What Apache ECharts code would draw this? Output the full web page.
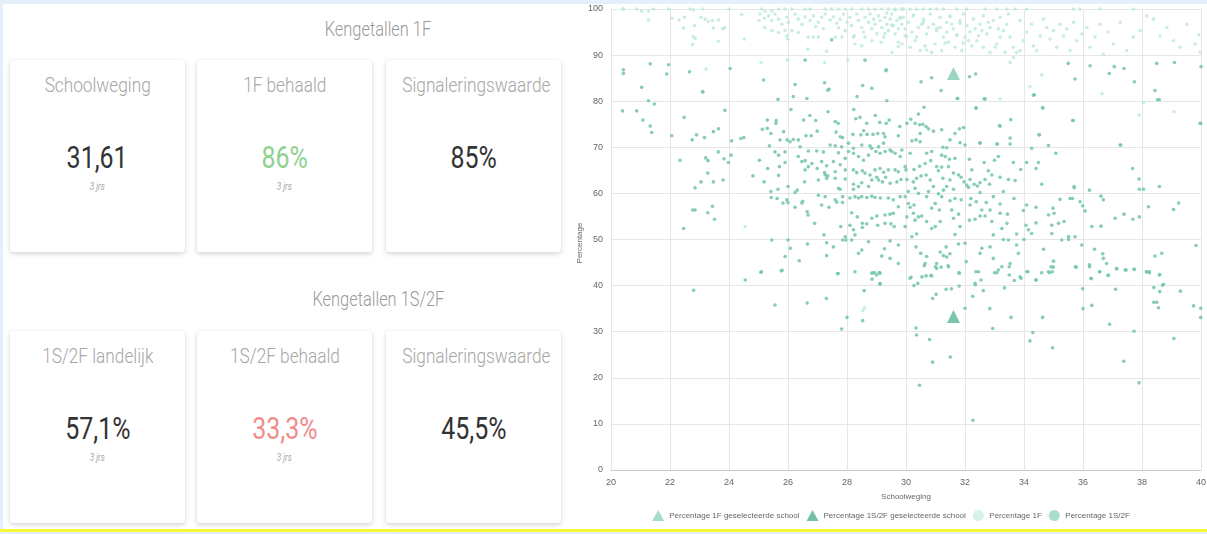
<!DOCTYPE html>
<html><head><meta charset="utf-8">
<script src="https://cdn.jsdelivr.net/npm/echarts@6/dist/echarts.min.js"></script>
<style>
html,body{margin:0;padding:0;width:1207px;height:534px;overflow:hidden;background:#e3effa;font-family:Roboto,"Noto Sans",sans-serif;}
#left{position:absolute;left:3px;top:4px;width:572px;height:525px;background:#fff;}
#chart{position:absolute;left:575px;top:4px;width:632px;height:525px;background:#fff;}
#yellow{position:absolute;left:0;top:529px;width:1207px;height:3px;background:#f8f83a;}
.title{position:absolute;width:400px;text-align:center;font-size:20px;line-height:24px;font-weight:300;color:#9a9a9a;}
.card{position:absolute;width:175px;height:192px;background:#fff;border-radius:3px;box-shadow:0 2px 5px rgba(0,0,0,0.16),0 0 2px rgba(0,0,0,0.07);}
.lab,.val,.sub{position:absolute;left:0;width:100%;text-align:center;white-space:nowrap;}
.lab{top:13px;font-size:21px;line-height:24px;font-weight:300;color:#a6a6a6;}
.val{top:79px;font-size:32px;line-height:36px;font-weight:400;color:#333;}
.sub{top:121px;font-size:10px;line-height:12px;font-style:italic;color:#aaa;}
.cx{display:inline-block;transform:scaleX(0.82);transform-origin:50% 50%;}
</style>
</head><body>
<div id="left"></div>
<div id="cards"></div>
<div id="chart"></div>
<div id="yellow"></div>
<script>
// ---------- KPI data ----------
const sectionTitles = ["Kengetallen 1F", "Kengetallen 1S/2F"];
const kpiLabels1F = ["Schoolweging", "1F behaald", "Signaleringswaarde"];
const kpiValues1F = ["31,61", "86%", "85%"];
const kpiLabels2F = ["1S/2F landelijk", "1S/2F behaald", "Signaleringswaarde"];
const kpiValues2F = ["57,1%", "33,3%", "45,5%"];
const kpiSubs = ["3 jrs", "3 jrs", ""];

// ---------- scatter data ----------
const legendNames = ["Percentage 1F geselecteerde school", "Percentage 1S/2F geselecteerde school", "Percentage 1F", "Percentage 1S/2F"];
const axisNames = ["Schoolweging", "Percentage"];
const xTicks = [20, 40, 2];
const yTicks = [0, 100, 10];
const school1F = [[31.61, 86.0]];
const school2F = [[31.61, 33.3]];

const pts1F = [
[20.41,100],[20.42,100],[20.87,100],[21.04,99.5],[21.27,99.5],[21.44,100],[21.95,100],[22.68,100],[22.79,99.8],[23.11,100],[24.0,100],[25.11,100],[25.22,99.5],[25.45,99.6],[25.68,100],[25.9,100],[26.13,100],[26.58,100],[26.75,100],[27.26,100],[27.48,100],[27.71,100],[27.94,100],[28.16,100],[28.5,100],[28.73,100],[28.95,100],[29.18,100],[29.4,100],[29.63,100],[29.86,100],
[21.27,97.6],[22.06,98.0],[22.31,97.6],[22.49,98.2],[22.46,95.9],[22.83,96.4],[22.79,94.0],[22.85,93.6],[22.76,92.3],[23.05,98.2],[23.19,97.8],[23.3,97.3],[23.44,97.5],[23.47,95.9],[23.64,97.6],[23.78,95.7],[23.85,95.9],[23.64,93.0],[24.43,98.8],[24.52,93.5],
[25.02,97.5],[25.05,98.9],[25.2,98.0],[25.34,98.5],[25.45,97.5],[25.56,98.9],[25.68,97.8],[25.79,96.7],[25.96,98.2],[26.01,97.1],[25.9,95.4],[25.96,94.2],[25.99,93.5],[25.68,94.9],[25.45,95.3],[25.22,96.0],
[26.24,98.9],[26.35,97.8],[26.47,96.7],[26.58,98.3],[26.75,97.5],[26.86,98.5],[26.94,96.2],[27.03,97.1],[27.14,98.2],[27.2,95.7],[27.26,98.9],[27.43,97.6],[27.54,98.3],[27.65,96.9],[27.71,95.9],[27.77,97.8],[27.88,98.9],[27.94,95.3],[28.0,97.1],[28.1,98.2],[28.16,96.4],[28.25,94.2],[28.33,98.9],[28.39,97.5],[28.5,96.0],[28.56,95.0],[28.61,98.2],[28.73,97.1],[28.78,98.9],[28.84,95.7],[28.9,97.8],[28.95,96.7],[29.01,94.6],[29.07,98.5],[29.12,97.5],[29.18,96.0],[29.24,93.9],[29.29,98.2],[29.35,96.7],[29.4,95.3],[29.46,97.8],[29.52,98.9],[29.57,96.4],[29.63,94.6],[29.69,97.5],[29.74,95.7],[29.8,98.2],[29.86,96.7],[29.74,92.8],[29.52,90.6],[28.5,92.0],[28.27,92.4],[26.69,93.9],[26.86,93.9],[27.03,93.9],[26.35,94.9],[26.13,95.3],[27.6,93.9],[27.83,93.9],[28.22,93.9],[28.61,93.9],[28.84,93.1],[29.16,92.8],
[29.91,100],[30.14,100],[30.36,100],[30.59,100],[30.82,100],[31.04,100],[31.27,100],[31.72,100],[32.06,100],[32.68,100],[33.08,100],[33.42,100],[33.7,100],[34.09,100],[35.68,100],[35.9,100],[36.58,100],[37.71,100],
[29.91,98.2],[30.08,97.1],[30.25,98.5],[30.42,96.0],[30.59,97.8],[30.7,94.6],[30.82,98.9],[30.93,96.7],[31.04,95.3],[31.16,98.2],[31.27,93.9],[31.38,97.1],[31.49,98.5],[31.61,95.7],[31.72,94.2],[31.83,97.5],[31.95,98.9],[32.06,96.4],[32.17,95.0],[32.29,97.8],[32.4,93.1],[32.51,96.7],[32.62,98.5],[32.74,94.6],[32.85,96.0],[32.96,97.5],[33.08,92.4],[33.19,98.2],[33.3,95.3],[33.42,96.7],[33.53,93.9],[33.64,91.7],[33.75,90.6],[33.87,97.5],[33.98,93.1],[34.09,95.0],[34.26,96.7],[34.32,92.0],[34.43,91.0],[34.55,94.2],[34.66,97.8],[34.77,96.0],[34.88,93.5],[35.0,95.3],[35.11,91.7],[35.22,96.7],[35.34,94.2],[35.45,95.7],[35.56,91.0],[35.68,97.1],[35.79,93.1],[35.96,94.6],[36.13,96.0],[36.24,91.7],[36.41,93.9],[36.58,96.7],[36.69,90.2],[36.86,95.0],[37.03,92.4],[37.26,97.1],[37.48,91.0],[37.71,93.9],[37.94,95.3],[38.16,98.5],[38.39,97.8],[38.61,94.2],[38.84,96.0],[39.07,93.1],[39.29,91.7],[39.52,96.7],[39.8,92.4],[39.97,90.6],[39.93,94.4],
[29.86,92.4],[29.97,94.2],[30.14,91.7],[30.31,93.1],[30.48,91.0],[30.65,92.0],[30.87,90.6],[30.99,92.4],[31.21,91.0],[31.44,92.8],[31.66,91.7],[31.89,91.0],[32.12,93.1],[32.23,92.0],[32.46,94.2],[32.62,91.7],[32.85,90.6],[33.02,91.7],[33.19,93.9],[33.36,90.6],[33.64,89.5],[33.87,91.0],
[29.97,95.7],[30.2,95.0],[30.36,93.9],[30.53,96.7],[30.76,96.0],[31.16,96.0],[31.38,95.0],[31.55,96.7],[32.0,93.9],[32.34,95.7],[32.57,95.3],[32.79,97.1],[33.13,95.7],[33.47,98.9],
[29.35,99.1],[29.63,99.8],[29.8,98.0],[29.52,96.5],[29.29,94.7],[30.02,94.0],[30.25,98.7],[30.59,97.2],[31.04,95.8],[31.49,98.3],[31.72,94.4],[31.94,92.6],[29.74,91.8],[30.7,91.1],[31.32,92.6],[31.83,96.9],
[24.55,52.8],[28.54,34.6],[28.6,35.2],[37.91,77.0],[39.09,77.7],[38.05,79.7],[36.64,81.6],[33.53,88.4],[33.19,80.5],[34.6,85.7],[34.2,83.2],[25.09,88.4],[25.99,88.9],[27.24,88.4],[28.03,88.9],[26.67,91.3],[27.31,90.8],[23.22,87.0]
];

const pts2F = [
[22.8,39],[24.55,41.2],[25.1,43],[25.56,35.8],[25.8,43.3],[26.65,36.2],[27.3,37.2],[27.7,42.6],[27.82,30.6],[28.0,33.1],[28.53,32.4],[28.58,38.9],[28.9,42.8],[28.85,41.4],[29.0,42.3],[29.1,42.8],[29.12,40.3],[29.12,42.7],
[30.34,30.8],[30.36,29.3],[30.8,28.3],[30.9,23.4],[30.46,18.4],[31.5,24.5],[32.27,10.8],[32.0,35.1],[32.84,35],[32.94,30.7],[33.56,33.1],[34.63,33.1],[34.3,29.8],[34.2,28],[34.97,26.5],[36.0,35],[36.3,35.7],[36.9,31.6],[37.38,23.6],[37.73,30.1],[37.9,18.9],[39.08,28.5],[39.75,35.6],[39.99,35.1],[39.99,33.1],[38.56,35.2],[38.4,36.4],[38.5,36.4],[38.6,38.7],[38.7,40.1],[38.4,39.6],[39.3,38.8],[38.6,42.4],[38.15,43],[38.25,43],[37.1,39.2],[35.99,39.3],[37.74,43.5],[37.43,43.4],[37.14,43.7],[36.85,42.2],[36.57,43],[36.28,41.5],[36.22,44.1],[35.74,44.1],[34.99,44],[34.96,43],[34.86,42.8],[34.6,42.8],[34.4,41.2],[34.1,43],[33.9,41.6],[33.67,41.1],[33.5,42.3],[33.5,44.1],[33.34,39.5],[33.13,43.4],[33.0,42.8],[32.62,38.9],[32.54,41.2],[32.37,43],[32.35,40.2],[32.26,37.7],[31.8,39.9],[31.79,42.8],[31.54,39.3],[31.36,39.2],[31.02,38.1],[30.9,37.2],[30.84,42.2],[30.68,42.1],[30.54,41.9],[30.27,40],[30.17,41.8],[30.4,40.5],[31.0,44.1],[31.19,44],[31.43,44.3],[30.62,44.3],
[20.39,77.9],[20.87,77.9],[21.08,75.9],[21.27,80.1],[21.47,79.4],[21.33,74.6],[21.38,73.2],[22.06,72.5],[22.48,76.5],[23.11,82.0],[22.75,71.6],[22.9,72.7],[23.17,72.1],[23.47,73.4],[23.64,74.0],[23.86,78.0],[24.09,71.4],[24.4,71.9],[24.5,72.1],[22.34,67.2],[23.21,67.7],[23.29,67.1],[23.64,69.0],[23.83,67.5],[23.98,66.7],[24.07,68.3],[23.28,64.4],[23.05,62.5],[23.47,62.5],[23.8,62.9],[22.85,61.2],[22.77,56.4],[22.85,56.4],[23.28,55.8],[23.44,57.2],[23.51,54.4],[22.46,52.4],
[25.03,67.2],[24.81,63.8],[25.13,73.9],[25.3,75.9],[25.3,74.1],[25.42,73.0],[25.6,75.8],[25.59,75.2],[25.66,80.4],[25.85,73.4],[26.1,78.2],[26.18,81.0],[26.64,80.6],[26.53,75.9],[26.74,76.9],[26.94,75.8],[26.99,73.5],[26.79,72.5],[27.36,77.7],[27.35,82.4],[27.6,75.6],[27.7,75.2],[27.85,72.1],[28.23,78.2],[28.3,76.2],[28.44,76.5],[28.34,81.0],[28.96,76.9],[29.35,80.1],[29.43,75.9],[29.33,75.2],[29.11,75.4],[28.67,75.2],[28.56,73.6],[28.47,72.7],[27.63,73.3],[27.77,72.3],[28.2,72.8],[28.68,72.8],[28.88,72.8],[29.04,73.0],[29.24,73.0],[29.29,72.3],[29.79,74.5],[29.74,72.5],
[25.73,71.6],[25.97,71.6],[26.18,71.7],[26.35,71.6],[26.07,71.2],[25.37,70.3],[25.56,69.0],[25.68,68.3],[25.9,69.0],[25.71,65.8],[25.9,66.7],[25.31,65.4],[25.19,62.5],[25.68,63.9],[25.42,60.4],[25.43,59.1],[25.66,60.9],[25.63,58.9],[26.0,61.5],[25.96,58.6],[26.0,58.0],[25.83,57.9],[26.31,60.7],[26.24,60.2],[26.5,58.3],[26.47,57.9],[26.24,57.0],[26.65,56.0],[26.68,55.3],[26.9,53.5],[27.22,51.0],[25.45,49.9],[26.0,49.9],[26.08,48.1],[25.9,46.3],[26.38,45.4],[26.66,49.0],[25.77,43.2],[25.08,42.9],[27.31,49.3],[27.54,48.4],[27.31,46.5],[27.68,42.6],[27.85,49.9],[27.79,52.8],[27.94,50.6],[27.96,49.9],[28.16,49.9],[28.27,51.0],[28.39,47.0],[28.5,47.7],[28.52,53.5],[28.52,52.6],[28.67,53.4],[28.73,49.5],[28.84,42.7],[28.93,42.8],[29.09,42.8],[29.12,40.5],[29.18,46.4],[29.27,48.0],[29.46,49.7],[29.74,48.8],[29.04,53.1],[29.29,53.5],[29.49,53.4],[29.6,52.8],[28.84,54.6],[29.01,55.1],[29.29,55.3],[29.46,55.5],[29.57,55.7],[29.74,57.1],[28.35,54.9],[28.16,55.8],
[27.85,58.0],[27.65,58.1],[27.85,59.3],[27.6,58.6],[27.39,57.0],[27.14,57.5],[27.03,59.6],[27.26,59.3],[27.71,61.1],[27.77,60.9],[28.22,60.9],[28.1,59.0],[28.27,59.3],[28.39,59.0],[28.5,59.3],[28.67,59.1],[28.84,59.4],[28.95,59.1],[29.13,59.0],[29.4,59.0],[29.57,58.6],[29.8,59.3],[28.22,62.0],[28.39,61.5],[28.5,62.3],[28.73,61.5],[28.84,62.9],[29.01,63.5],[29.07,62.9],[29.2,62.5],[29.31,63.5],[29.46,62.2],[29.69,62.5],[29.83,63.0],[27.03,62.9],[27.31,63.3],[27.6,63.3],[27.94,63.1],[26.56,62.5],[26.58,65.1],[26.69,65.8],[26.99,65.4],[27.24,64.5],[27.26,64.0],[27.35,63.8],[27.6,64.7],[27.77,66.2],[27.94,65.1],[28.22,65.1],[28.33,64.5],[28.52,64.9],[28.61,64.4],[28.78,64.0],[28.95,65.1],[29.12,65.4],[29.24,64.6],[29.4,65.1],[29.63,65.1],[29.74,64.7],
[26.35,68.0],[26.47,66.9],[26.58,67.1],[26.81,66.5],[27.14,66.9],[27.31,66.0],[27.54,66.9],[27.71,68.8],[27.94,67.6],[28.05,69.1],[28.22,68.7],[28.39,68.0],[28.56,67.2],[28.73,68.3],[28.84,69.8],[28.98,69.1],[29.12,68.7],[29.29,69.1],[29.46,69.4],[29.63,68.7],[29.8,68.0],[26.69,69.2],[26.97,69.2],[27.2,69.0],[27.43,70.5],[27.6,70.3],[27.82,70.1],[28.05,70.9],[28.22,69.8],[28.5,70.5],[28.78,70.3],[29.07,70.1],[29.24,70.9],[29.52,69.1],[29.86,69.4],[26.61,72.5],[26.41,70.1],[28.1,53.1],[28.22,52.1],[29.46,45.9],[29.74,44.8],[28.27,43.0],
[30.61,78.7],[30.42,77.2],[30.03,75.2],[30.16,76.1],[30.31,75.2],[30.46,74.9],[30.57,75.0],[30.68,74.5],[30.76,74.0],[30.93,73.5],[30.48,73.0],[30.34,71.6],[30.2,71.4],[30.48,71.2],[31.21,73.8],[31.66,73.0],[31.81,74.0],[31.95,74.3],[31.74,80.6],[32.38,78.5],[32.65,80.5],[33.17,74.7],[33.53,72.0],[33.53,70.7],[33.08,70.7],[32.51,71.0],[34.52,72.7],[34.26,69.8],[34.83,70.4],[35.08,68.7],[35.65,75.8],[34.64,78.5],[34.32,81.3],[37.26,70.5],[37.68,65.4],[37.9,63.1],[38.05,60.9],[38.59,61.5],[39.99,75.2],[38.53,80.3],[39.24,57.9],[39.07,56.5],[38.22,57.1],[37.91,54.9],[37.69,54.4],[37.39,55.5],[36.69,58.6],[36.61,59.4],[36.22,60.7],[35.7,61.2],[35.9,58.2],[36.07,56.2],[35.99,57.3],[35.64,58.9],[35.56,58.9],[35.22,58.7],[34.98,56.8],[35.02,55.7],[34.83,55.3],[35.36,53.9],[35.17,53.5],[34.94,53.1],[34.41,57.0],[34.41,53.6],[34.09,57.5],[33.98,56.3],[34.07,53.1],[34.15,52.1],[34.26,51.3],[33.75,51.2],[34.0,50.0],[34.6,62.0],[35.7,61.5],[35.96,48.8],[36.3,52.8],[36.61,52.9],[35.51,50.6],[35.51,50.0],[35.73,50.6],[35.28,49.9],[34.94,51.3],[34.66,47.9],[35.0,45.3],[34.92,44.1],[34.83,43.0],[34.41,41.2],[34.13,43.0],[33.87,41.9],[35.77,44.0],[36.22,44.5],[36.27,41.6],[36.39,47.9],[36.67,46.9],[36.69,45.9],[36.8,44.8],[36.56,43.0],[36.86,42.3],[37.14,43.6],[37.46,43.4],[37.73,43.6],[38.16,43.0],[38.25,42.8],[38.59,42.3],[38.44,46.4],[38.67,47.0],[39.83,48.7],[38.73,40.3],[37.09,54.6],[37.91,60.9],
[33.19,63.5],[33.3,60.4],[33.47,63.0],[33.66,58.9],[33.7,62.8],[33.64,66.7],[33.89,65.2],[34.09,66.7],[34.41,65.4],[34.49,66.7],[33.13,68.0],[33.0,67.2],[32.91,64.0],[32.83,62.0],[32.68,63.0],[32.65,66.7],[32.79,64.9],[32.51,62.3],[32.42,61.6],[32.31,62.0],[32.17,63.0],[32.12,61.3],[32.23,65.1],[32.15,67.4],[32.51,60.2],[32.72,58.0],[32.96,59.3],[33.19,57.7],[32.85,56.4],[32.57,56.4],[32.38,58.2],[32.2,58.9],[32.17,57.5],[32.68,55.1],[32.51,55.1],[32.34,54.4],[32.15,54.2],[32.91,53.9],[33.19,55.7],[33.44,55.5],[33.42,53.5],[33.25,52.4],[32.96,51.0],[33.3,50.0],[33.47,49.9],[33.75,48.8],[33.81,47.0],[33.53,44.8],[33.25,44.1],[33.08,42.8],[32.57,48.1],[32.51,47.0],[32.85,48.4],[32.96,45.9],[32.46,43.0],[32.34,40.5],[32.04,45.2],[31.81,42.7],[31.78,49.0],[32.0,49.2],[31.83,52.8],[31.66,51.1],[31.61,54.6],[31.78,55.5],[31.55,56.4],[31.49,58.4],[31.66,58.9],[31.87,58.6],[31.61,60.9],[31.38,61.5],[31.27,60.7],[31.21,59.3],[31.1,59.9],[30.99,57.8],[30.87,56.8],[31.13,56.4],[31.16,53.9],[30.99,52.8],[30.87,52.4],[30.7,53.9],[30.53,55.1],[30.42,54.9],[30.31,54.2],[30.25,55.7],[30.14,57.0],[30.08,57.8],[30.27,57.5],[30.03,54.9],[29.97,59.3],[30.08,60.4],[30.31,61.1],[30.42,60.0],[30.7,59.3],[30.76,60.4],[30.93,61.5],[30.82,62.9],[30.68,64.0],[30.51,63.8],[30.36,63.3],[30.25,62.5],[30.03,63.0],[30.0,65.1],[30.27,65.2],[30.46,65.9],[30.65,66.5],[30.84,67.1],[30.7,68.7],[30.87,69.1],[30.14,68.7],[29.97,65.8],[31.04,65.8],[31.1,64.9],[31.21,65.7],[31.25,63.3],[31.44,65.8],[31.61,64.4],[31.49,62.9],[31.78,64.0],[31.87,63.5],[31.97,62.5],[32.06,61.8],[31.66,67.6],[31.47,67.4],[31.33,68.0],[31.21,68.3],[31.25,70.0],[31.38,69.9],[31.49,71.6],[31.83,71.0],[32.0,70.5],[29.97,52.8],[30.2,50.6],[30.36,51.2],[30.34,48.4],[30.5,47.0],[30.65,44.8],[30.7,46.3],[30.87,42.1],[31.04,43.7],[31.16,47.3],[31.27,46.5],[31.38,46.2],[31.49,46.9],[31.36,48.4],[31.04,44.8],[31.44,44.1],[30.14,41.6],
[29.32,86.6],[30.51,84.2],[30.87,85.1],[31.19,82.3],[31.75,80.6],[32.15,85.3],[32.36,85.9],[32.68,80.5],[32.37,78.5],[34.35,81.4],[35.5,88.2],[35.73,84.8],[36.24,87.7],[36.89,86.0],[37.06,87.5],[37.39,87.1],[37.74,84.2],[38.44,82.3],[38.59,80.3],[38.5,88.2],[39.1,88.4],[40.0,87.5],[35.67,75.8],[34.63,78.6],[34.51,72.7],[33.55,76.0],[33.19,74.6],[33.1,70.7],[32.51,70.9],[37.28,70.5],[39.97,75.2],
[20.42,86.8],[20.42,86.0],[21.04,83.0],[21.33,88.1],[21.95,87.9],[21.89,85.9],[22.66,86.4],[23.11,82.1],[24.04,87.1],[25.17,84.6],[26.24,83.6],[26.58,88.9],[27.24,84.0],[27.39,82.6],[27.48,93.3],[28.53,83.4],[28.84,82.8],[28.61,88.9],[29.33,86.8]
];

// ---------- build KPI cards ----------
const cardsEl = document.getElementById('cards');
const colLefts = [10, 197, 386];
const valueColors = [["#333", "#8fd18f", "#333"], ["#333", "#f28b8b", "#333"]];
function addTitle(text, top) {
  const d = document.createElement('div');
  d.className = 'title';
  d.style.left = (378 - 200) + 'px';
  d.style.top = top + 'px';
  d.innerHTML = '<span class="cx">' + text + '</span>';
  cardsEl.appendChild(d);
}
function addRow(labels, values, colors, top) {
  labels.forEach((lab, i) => {
    const c = document.createElement('div');
    c.className = 'card';
    c.style.left = colLefts[i] + 'px';
    c.style.top = top + 'px';
    c.innerHTML = '<div class="lab"><span class="cx">' + lab + '</span></div>' +
      '<div class="val" style="color:' + colors[i] + '"><span class="cx" style="transform:scaleX(0.78)">' + values[i] + '</span></div>' +
      (kpiSubs[i] ? '<div class="sub"><span class="cx">' + kpiSubs[i] + '</span></div>' : '');
    cardsEl.appendChild(c);
  });
}
addTitle(sectionTitles[0], 17);
addRow(kpiLabels1F, kpiValues1F, valueColors[0], 60);
addTitle(sectionTitles[1], 287);
addRow(kpiLabels2F, kpiValues2F, valueColors[1], 331);

// ---------- chart ----------
const chart = echarts.init(document.getElementById('chart'), null, {renderer: 'canvas'});
const c1F = '#bde9d9', c2F = '#78c8ab', tri1F = '#7fcbb1', tri2F = '#57b694';
const axisCommon = {
  axisTick: {show: false},
  axisLabel: {fontSize: 9, color: '#666', margin: 8},
  splitLine: {lineStyle: {color: '#e6e6e6', width: 1}},
  nameLocation: 'middle',
  nameTextStyle: {fontSize: 8, color: '#666'}
};
chart.setOption({
  animation: false,
  grid: {left: 36, right: 6, top: 5, bottom: 59, containLabel: false, outerBoundsMode: 'none'},
  xAxis: Object.assign({}, axisCommon, {
    type: 'value', min: xTicks[0], max: xTicks[1], interval: xTicks[2],
    name: axisNames[0], nameGap: 23,
    axisLine: {show: true, lineStyle: {color: '#c8c8c8'}}
  }),
  yAxis: Object.assign({}, axisCommon, {
    type: 'value', min: yTicks[0], max: yTicks[1], interval: yTicks[2],
    axisLine: {show: false}
  }),
  graphic: [{
    type: 'text', x: 5, y: 239, rotation: Math.PI / 2,
    style: {text: axisNames[1], fontSize: 8, fill: '#666', align: 'center', verticalAlign: 'middle', fontFamily: 'sans-serif'}
  }],
  legend: {
    bottom: 3, left: 'center', itemWidth: 12, itemHeight: 11, itemGap: 7,
    textStyle: {fontSize: 8, color: '#666'},
    data: [
      {name: legendNames[0], icon: 'triangle', itemStyle: {color: '#8fd3ba'}},
      {name: legendNames[1], icon: 'triangle', itemStyle: {color: '#4fb08e'}},
      {name: legendNames[2], icon: 'circle', itemStyle: {color: '#c9efe1'}},
      {name: legendNames[3], icon: 'circle', itemStyle: {color: '#9dd9c3'}}
    ]
  },
  series: [
    {name: legendNames[2], type: 'scatter', data: pts1F, symbolSize: 3.6, itemStyle: {color: c1F}, z: 2},
    {name: legendNames[3], type: 'scatter', data: pts2F, symbolSize: 3.6, itemStyle: {color: c2F, opacity: 0.9}, z: 3},
    {name: legendNames[0], type: 'scatter', data: school1F, symbol: 'triangle', symbolSize: 13, itemStyle: {color: tri1F}, z: 5},
    {name: legendNames[1], type: 'scatter', data: school2F, symbol: 'triangle', symbolSize: 13, itemStyle: {color: tri2F}, z: 5}
  ]
});
</script>
</body></html>
